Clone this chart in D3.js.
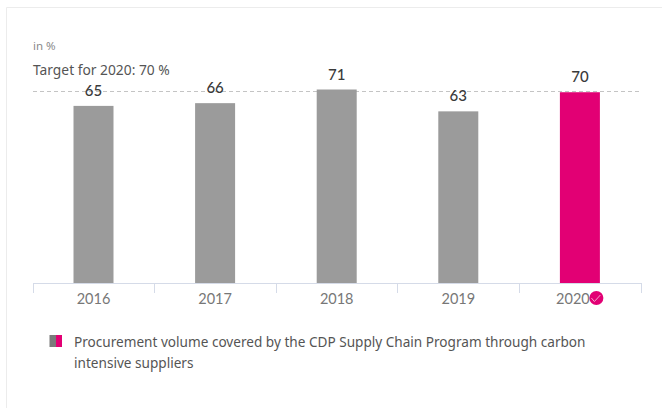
<!DOCTYPE html>
<html><head><meta charset="utf-8">
<script src="https://cdn.jsdelivr.net/npm/d3@7/dist/d3.min.js"></script>
<style>html,body{margin:0;padding:0;background:#fff;overflow:hidden}svg{display:block}</style>
</head><body><svg id="c" width="662" height="408"></svg>
<script>
const categories = ["2016","2017","2018","2019","2020"];
const values = [65,66,71,63,70];
const target = 70;
const unitLabel = "in %";
const targetLabel = "Target for 2020: 70 %";
const legendLines = ["Procurement volume covered by the CDP Supply Chain Program through carbon","intensive suppliers"];

const svg = d3.select("#c");
const uiFont = "'Noto Sans',sans-serif";
const numFont = "Lato,sans-serif";

svg.append("path").attr("d","M6.5,408V7.5H662").attr("fill","none").attr("stroke","#ececec");

const x = d3.scaleBand().domain(categories).range([32.7,640.7]);
const y = d3.scaleLinear().domain([0,71]).range([283.5,89.5]);
const barW = 40;
const highlight = "2020";
const highlightShift = -7;

svg.append("text").attr("x",33).attr("y",50).attr("font-family",uiFont).attr("font-size",11.5).attr("fill","#8a8a8a").text(unitLabel);
svg.append("text").attr("x",33).attr("y",75).attr("font-family",uiFont).attr("font-size",13.8).attr("fill","#555").text(targetLabel);

svg.append("line").attr("x1",33).attr("x2",641).attr("y1",Math.round(y(target))-.5).attr("y2",Math.round(y(target))-.5)
  .attr("stroke","#c4c4c4").attr("stroke-dasharray","4 3");

svg.selectAll("rect.bar").data(values).join("rect").attr("class","bar")
  .attr("x",(d,i)=>x(categories[i])+x.bandwidth()/2-barW/2).attr("width",barW)
  .attr("y",d=>y(d)).attr("height",d=>y(0)-y(d))
  .attr("fill",(d,i)=>categories[i]===highlight?"#e20074":"#9b9b9b");

svg.selectAll("text.val").data(values).join("text").attr("class","val")
  .attr("x",(d,i)=>x(categories[i])+x.bandwidth()/2).attr("y",d=>y(d)-10)
  .attr("text-anchor","middle").attr("font-family",numFont).attr("font-size",15).attr("font-weight",500).attr("fill","#3a3a3a").text(d=>d);

const axis = d3.axisBottom(x).tickSize(0).tickPadding(10);
const gx = svg.append("g").attr("transform","translate(0,283.5)").call(axis);
gx.select(".domain").remove();
gx.selectAll("text").attr("font-family",numFont).attr("font-size",14.5).attr("fill","#777")
  .attr("dx",d=>d===highlight?highlightShift:0);
const edges = categories.map(c=>x(c)).concat([x.range()[1]]);
const axisG = svg.append("g").attr("stroke","#d5dbe8").attr("fill","none");
axisG.append("line").attr("x1",33).attr("x2",641).attr("y1",283.5).attr("y2",283.5);
axisG.selectAll("line.t").data(edges).join("line").attr("class","t")
  .attr("x1",d=>Math.round(d)+.5).attr("x2",d=>Math.round(d)+.5).attr("y1",283).attr("y2",293);

// 2020 check badge
const lastX = x(highlight)+x.bandwidth()/2+16.5, badgeY = 298;
svg.append("circle").attr("cx",lastX).attr("cy",badgeY).attr("r",7).attr("fill","#e20074");
svg.append("path").attr("d",`M${lastX-5},${badgeY} l3,3.5 l6,-6.5`).attr("fill","none").attr("stroke","#f3a6cc").attr("stroke-width",1);

// legend swatch
svg.append("rect").attr("x",49.5).attr("y",335).attr("width",6.5).attr("height",12).attr("fill","#7a7a7a");
svg.append("rect").attr("x",56).attr("y",335).attr("width",6).attr("height",12).attr("fill","#e20074");
svg.selectAll("text.leg").data(legendLines).join("text").attr("class","leg")
  .attr("x",74).attr("y",(d,i)=>346.5+i*21).attr("font-family",uiFont).attr("font-size",13.6).attr("fill","#555").text(d=>d);
</script></body></html>
